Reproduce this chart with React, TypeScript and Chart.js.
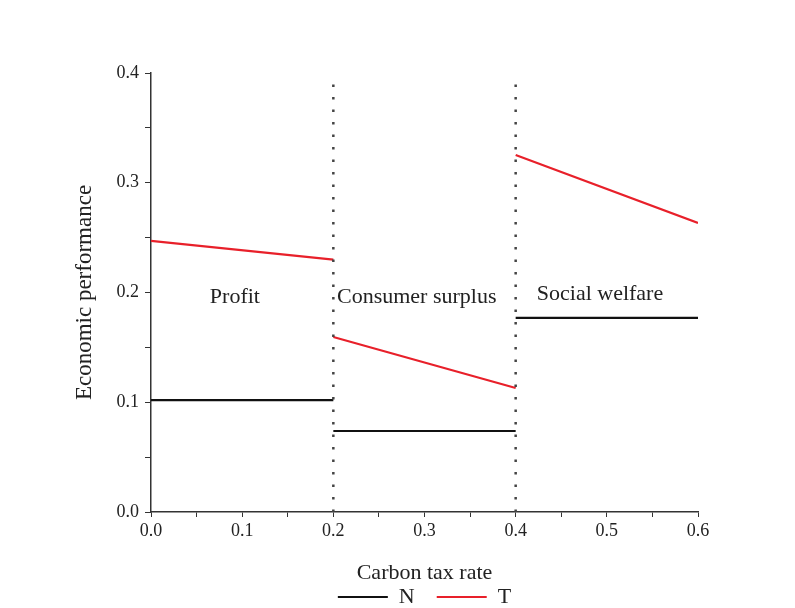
import React, { useEffect, useRef } from "react";
import { Chart, registerables } from "chart.js";

Chart.register(...registerables);

const segmentBounds = [0, 0.2, 0.4, 0.6];
const segmentNames = ["Profit", "Consumer surplus", "Social welfare"];
const nStart = [0.102, 0.0738, 0.1768];
const nEnd = [0.102, 0.0738, 0.1768];
const tStart = [0.247, 0.1594, 0.3253];
const tEnd = [0.23, 0.113, 0.2633];
const dividerX = [0.2, 0.4];
const dividerTop = 0.39;
const labelX = [0.092, 0.2915, 0.4925];
const labelY = [0.196, 0.196, 0.198];

function buildSeries(start: number[], end: number[]) {
  const pts: { x: number; y: number | null }[] = [];
  for (let i = 0; i < start.length; i++) {
    if (i > 0) pts.push({ x: segmentBounds[i], y: null });
    pts.push({ x: segmentBounds[i], y: start[i] });
    pts.push({ x: segmentBounds[i + 1], y: end[i] });
  }
  return pts;
}

const FONT = "'Liberation Serif', 'Times New Roman', serif";

export default function App() {
  const ref = useRef<HTMLCanvasElement>(null);
  useEffect(() => {
    if (!ref.current) return;
    const labelPlugin = {
      id: "segLabels",
      afterDatasetsDraw(chart: any) {
        const { ctx, scales } = chart;
        ctx.save();
        ctx.font = `22px ${FONT}`;
        ctx.fillStyle = "#222";
        ctx.textAlign = "center";
        ctx.textBaseline = "middle";
        segmentNames.forEach((name, i) => {
          ctx.fillText(name, scales.x.getPixelForValue(labelX[i]), scales.y.getPixelForValue(labelY[i]));
        });
        ctx.restore();
      },
    };
    const dividers = dividerX.map((dx) => ({
      label: "divider",
      data: [
        { x: dx, y: 0 },
        { x: dx, y: dividerTop },
      ],
      borderColor: "#444",
      borderWidth: 2.5,
      borderDash: [2.5, 10],
      pointRadius: 0,
    }));
    const tickCb = (v: any) => {
      const r = Math.round(v * 100);
      return r % 10 === 0 ? (r / 100).toFixed(1) : "";
    };
    const chart = new Chart(ref.current, {
      type: "line",
      data: {
        datasets: [
          ...dividers,
          {
            label: "N",
            data: buildSeries(nStart, nEnd),
            borderColor: "#111",
            backgroundColor: "#111",
            borderWidth: 2.2,
            pointRadius: 0,
            spanGaps: false,
          },
          {
            label: "T",
            data: buildSeries(tStart, tEnd),
            borderColor: "#e8202a",
            backgroundColor: "#e8202a",
            borderWidth: 2.2,
            pointRadius: 0,
            spanGaps: false,
          },
        ] as any,
      },
      options: {
        animation: false,
        responsive: false,
        maintainAspectRatio: false,
        layout: { padding: { left: 66, top: 73, right: 97, bottom: -10 } },
        plugins: {
          tooltip: { enabled: false },
          legend: {
            position: "bottom",
            fullSize: false,
            labels: {
              usePointStyle: true,
              pointStyle: "line",
              pointStyleWidth: 50,
              padding: 0,
              color: "#222",
              font: { family: FONT, size: 22 },
              generateLabels: (chart: any) => {
                const items = (Chart.defaults.plugins.legend.labels as any)
                  .generateLabels(chart)
                  .filter((it: any) => it.text !== "divider");
                return items.map((it: any, i: number) =>
                  i < items.length - 1 ? { ...it, text: it.text + "\u2002\u2002" } : it
                );
              },
            },
          },
        },
        scales: {
          x: {
            type: "linear",
            min: 0,
            max: 0.6,
            afterFit: (s: any) => {
              s.height = 74;
            },
            border: { display: true, color: "#333", width: 1.5 },
            grid: { drawOnChartArea: false, drawTicks: true, tickLength: 5, color: "#333" },
            ticks: {
              stepSize: 0.05,
              color: "#222",
              font: { family: FONT, size: 18 },
              padding: 3,
              maxRotation: 0,
              autoSkip: false,
              callback: tickCb,
            },
            title: {
              display: true,
              text: "Carbon tax rate",
              color: "#222",
              font: { family: FONT, size: 22 },
              padding: { top: 0, bottom: 0 },
            },
          },
          y: {
            type: "linear",
            min: 0,
            max: 0.4,
            afterFit: (s: any) => {
              s.width = 85;
            },
            border: { display: true, color: "#333", width: 1.5 },
            grid: { drawOnChartArea: false, drawTicks: true, tickLength: 6, color: "#333" },
            ticks: {
              stepSize: 0.05,
              color: "#222",
              font: { family: FONT, size: 18 },
              padding: 6,
              autoSkip: false,
              callback: tickCb,
            },
            title: {
              display: true,
              text: "Economic performance",
              color: "#222",
              font: { family: FONT, size: 23 },
              padding: { top: 5, bottom: 0 },
            },
          },
        },
      } as any,
      plugins: [labelPlugin],
    });
    return () => chart.destroy();
  }, []);
  return (
    <div style={{ position: "fixed", left: 0, top: 0, width: 795, height: 608, background: "#fff" }}>
      <canvas ref={ref} width={795} height={608} />
    </div>
  );
}
